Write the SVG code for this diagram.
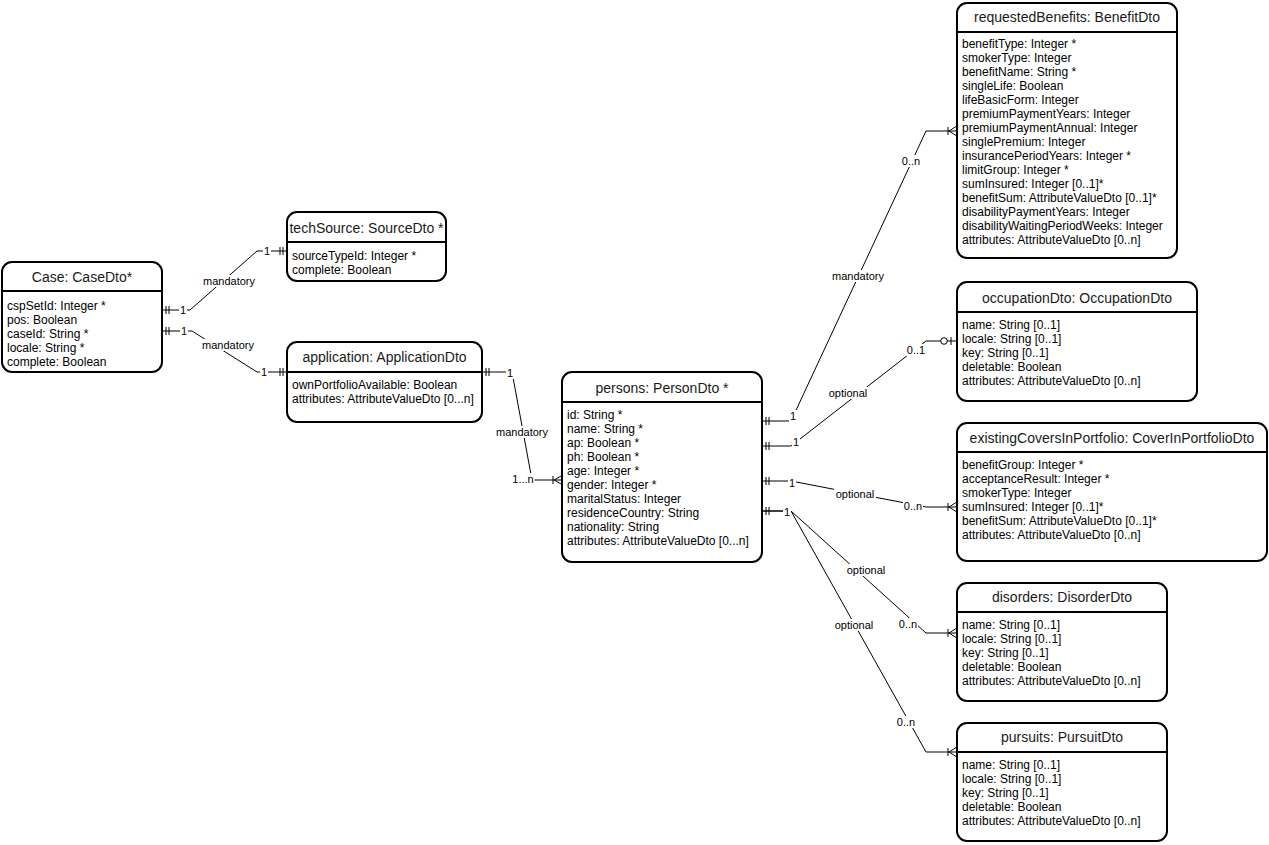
<svg xmlns="http://www.w3.org/2000/svg" width="1269" height="845" viewBox="0 0 1269 845">
<style>
.box{fill:#fff;stroke:#000;stroke-width:2}
.hdr{stroke:#000;stroke-width:2}
.title{font-family:"Liberation Sans",Arial,sans-serif;font-size:14px;fill:#1a1a1a;text-anchor:middle}
.row{font-family:"Liberation Sans",Arial,sans-serif;font-size:12px;fill:#000}
.edge{fill:none;stroke:#000;stroke-width:1}
.mk{fill:none;stroke:#000;stroke-width:1}
.bg{fill:#fff}
.lbl{font-family:"Liberation Sans",Arial,sans-serif;font-size:11px;fill:#000;text-anchor:middle}
</style>
<rect width="1269" height="845" fill="#fff"/>

<g id="connectors">
  <!-- Case -> techSource -->
  <polyline class="edge" points="162,310 190,310 257,251 287,251"/>
  <path class="mk" d="M166,306V314M169,306V314M283,247V255M280,247V255"/>
  <rect class="bg" x="179" y="304" width="8" height="12"/>
  <text class="lbl" x="183" y="314">1</text>
  <rect class="bg" x="263" y="245" width="8" height="12"/>
  <text class="lbl" x="267" y="255">1</text>
  <rect class="bg" x="202" y="275" width="54" height="12"/>
  <text class="lbl" x="229" y="285">mandatory</text>
  <!-- Case -> application -->
  <polyline class="edge" points="162,331 192,331 257,372 287,372"/>
  <path class="mk" d="M166,327V335M169,327V335M283,368V376M280,368V376"/>
  <rect class="bg" x="180" y="325" width="8" height="12"/>
  <text class="lbl" x="184" y="335">1</text>
  <rect class="bg" x="260" y="366" width="8" height="12"/>
  <text class="lbl" x="264" y="376">1</text>
  <rect class="bg" x="201" y="339" width="54" height="12"/>
  <text class="lbl" x="228" y="349">mandatory</text>
  <!-- application -> persons -->
  <polyline class="edge" points="482,372 512,372 532,480 562,480"/>
  <path class="mk" d="M486,368V376M489,368V376M553,476V484M554,480L562,475.5M554,480L562,484.5"/>
  <rect class="bg" x="506" y="367" width="8" height="12"/>
  <text class="lbl" x="510" y="377">1</text>
  <rect class="bg" x="495" y="426" width="54" height="12"/>
  <text class="lbl" x="522" y="436">mandatory</text>
  <rect class="bg" x="511.5" y="473" width="23" height="12"/>
  <text class="lbl" x="523" y="483">1...n</text>
  <!-- persons -> requestedBenefits -->
  <polyline class="edge" points="762,421 791,421 926,131 956,131"/>
  <path class="mk" d="M766,417V425M769,417V425M948,127V135M949,131L956,126.5M949,131L956,135.5"/>
  <rect class="bg" x="789" y="410" width="8" height="12"/>
  <text class="lbl" x="793" y="420">1</text>
  <rect class="bg" x="901" y="155" width="20" height="12"/>
  <text class="lbl" x="911" y="165">0..n</text>
  <rect class="bg" x="831" y="270" width="54" height="12"/>
  <text class="lbl" x="858" y="280">mandatory</text>
  <!-- persons -> occupationDto -->
  <polyline class="edge" points="762,446 791,446 926,341 940.7,341"/>
  <line class="edge" x1="947.3" y1="341" x2="956" y2="341"/>
  <circle class="mk" cx="944" cy="341" r="3.3" fill="#fff"/>
  <path class="mk" d="M766,442V450M769,442V450M951,337V345"/>
  <rect class="bg" x="792" y="436" width="8" height="12"/>
  <text class="lbl" x="796" y="446">1</text>
  <rect class="bg" x="827" y="387" width="42" height="12"/>
  <text class="lbl" x="848" y="397">optional</text>
  <rect class="bg" x="906" y="344" width="20" height="12"/>
  <text class="lbl" x="916" y="354">0..1</text>
  <!-- persons -> existingCoversInPortfolio -->
  <polyline class="edge" points="762,481 791,481 926,507 956,507"/>
  <path class="mk" d="M766,477V485M769,477V485M948,503V511M949,507L956,502.5M949,507L956,511.5"/>
  <rect class="bg" x="788" y="477" width="8" height="12"/>
  <text class="lbl" x="792" y="487">1</text>
  <rect class="bg" x="834" y="488" width="42" height="12"/>
  <text class="lbl" x="855" y="498">optional</text>
  <rect class="bg" x="903" y="500" width="20" height="12"/>
  <text class="lbl" x="913" y="510">0..n</text>
  <!-- persons -> disorders -->
  <polyline class="edge" points="762,511 791,511 926,633 956,633"/>
  <path class="mk" d="M766,507V515M769,507V515M948,629V637M949,633L956,628.5M949,633L956,637.5"/>
  <rect class="bg" x="845" y="564" width="42" height="12"/>
  <text class="lbl" x="866" y="574">optional</text>
  <rect class="bg" x="898" y="618" width="20" height="12"/>
  <text class="lbl" x="908" y="628">0..n</text>
  <!-- persons -> pursuits -->
  <polyline class="edge" points="762,511 791,511 926,752 956,752"/>
  <path class="mk" d="M948,748V756M949,752L956,747.5M949,752L956,756.5"/>
  <rect class="bg" x="833" y="619" width="42" height="12"/>
  <text class="lbl" x="854" y="629">optional</text>
  <rect class="bg" x="896" y="716" width="20" height="12"/>
  <text class="lbl" x="906" y="726">0..n</text>
  <rect class="bg" x="783" y="505.5" width="8" height="12"/>
  <text class="lbl" x="787" y="515.5">1</text>
</g>

<g id="case">
  <rect class="box" x="2" y="262" width="160" height="110" rx="10"/>
  <line class="hdr" x1="2" y1="291" x2="162" y2="291"/>
  <text class="title" x="82" y="282">Case: CaseDto*</text>
  <text class="row" x="7" y="310">cspSetId: Integer *</text>
  <text class="row" x="7" y="324">pos: Boolean</text>
  <text class="row" x="7" y="338">caseId: String *</text>
  <text class="row" x="7" y="352">locale: String *</text>
  <text class="row" x="7" y="366">complete: Boolean</text>
</g>

<g id="techSource">
  <rect class="box" x="287" y="212" width="159" height="69" rx="10"/>
  <line class="hdr" x1="287" y1="242" x2="446" y2="242"/>
  <text class="title" x="366.5" y="233">techSource: SourceDto *</text>
  <text class="row" x="292" y="259.5">sourceTypeId: Integer *</text>
  <text class="row" x="292" y="273.5">complete: Boolean</text>
</g>

<g id="application">
  <rect class="box" x="287" y="342" width="195" height="80" rx="10"/>
  <line class="hdr" x1="287" y1="372" x2="482" y2="372"/>
  <text class="title" x="384.5" y="362">application: ApplicationDto</text>
  <text class="row" x="292" y="388.5">ownPortfolioAvailable: Boolean</text>
  <text class="row" x="292" y="402.5">attributes: AttributeValueDto [0...n]</text>
</g>

<g id="persons">
  <rect class="box" x="562" y="372" width="200" height="190" rx="10"/>
  <line class="hdr" x1="562" y1="402" x2="762" y2="402"/>
  <text class="title" x="662" y="393">persons: PersonDto *</text>
  <text class="row" x="567" y="418.5">id: String *</text>
  <text class="row" x="567" y="432.5">name: String *</text>
  <text class="row" x="567" y="446.5">ap: Boolean *</text>
  <text class="row" x="567" y="460.5">ph: Boolean *</text>
  <text class="row" x="567" y="474.5">age: Integer *</text>
  <text class="row" x="567" y="488.5">gender: Integer *</text>
  <text class="row" x="567" y="502.5">maritalStatus: Integer</text>
  <text class="row" x="567" y="516.5">residenceCountry: String</text>
  <text class="row" x="567" y="530.5">nationality: String</text>
  <text class="row" x="567" y="544.5">attributes: AttributeValueDto [0...n]</text>
</g>

<g id="requestedBenefits">
  <rect class="box" x="957" y="3" width="220" height="255" rx="10"/>
  <line class="hdr" x1="957" y1="32" x2="1177" y2="32"/>
  <text class="title" x="1067" y="22">requestedBenefits: BenefitDto</text>
  <text class="row" x="962" y="48">benefitType: Integer *</text>
  <text class="row" x="962" y="62">smokerType: Integer</text>
  <text class="row" x="962" y="76">benefitName: String *</text>
  <text class="row" x="962" y="90">singleLife: Boolean</text>
  <text class="row" x="962" y="104">lifeBasicForm: Integer</text>
  <text class="row" x="962" y="118">premiumPaymentYears: Integer</text>
  <text class="row" x="962" y="132">premiumPaymentAnnual: Integer</text>
  <text class="row" x="962" y="146">singlePremium: Integer</text>
  <text class="row" x="962" y="160">insurancePeriodYears: Integer *</text>
  <text class="row" x="962" y="174">limitGroup: Integer *</text>
  <text class="row" x="962" y="188">sumInsured: Integer [0..1]*</text>
  <text class="row" x="962" y="202">benefitSum: AttributeValueDto [0..1]*</text>
  <text class="row" x="962" y="216">disabilityPaymentYears: Integer</text>
  <text class="row" x="962" y="230">disabilityWaitingPeriodWeeks: Integer</text>
  <text class="row" x="962" y="244">attributes: AttributeValueDto [0..n]</text>
</g>

<g id="occupationDto">
  <rect class="box" x="957" y="282" width="240" height="119" rx="10"/>
  <line class="hdr" x1="957" y1="312" x2="1197" y2="312"/>
  <text class="title" x="1077" y="303">occupationDto: OccupationDto</text>
  <text class="row" x="962" y="329">name: String [0..1]</text>
  <text class="row" x="962" y="343">locale: String [0..1]</text>
  <text class="row" x="962" y="357">key: String [0..1]</text>
  <text class="row" x="962" y="371">deletable: Boolean</text>
  <text class="row" x="962" y="385">attributes: AttributeValueDto [0..n]</text>
</g>

<g id="existingCoversInPortfolio">
  <rect class="box" x="957" y="423" width="310" height="138" rx="10"/>
  <line class="hdr" x1="957" y1="452" x2="1267" y2="452"/>
  <text class="title" x="1112" y="443">existingCoversInPortfolio: CoverInPortfolioDto</text>
  <text class="row" x="962" y="468.5">benefitGroup: Integer *</text>
  <text class="row" x="962" y="482.5">acceptanceResult: Integer *</text>
  <text class="row" x="962" y="496.5">smokerType: Integer</text>
  <text class="row" x="962" y="510.5">sumInsured: Integer [0..1]*</text>
  <text class="row" x="962" y="524.5">benefitSum: AttributeValueDto [0..1]*</text>
  <text class="row" x="962" y="538.5">attributes: AttributeValueDto [0..n]</text>
</g>

<g id="disorders">
  <rect class="box" x="957" y="583" width="210" height="118" rx="10"/>
  <line class="hdr" x1="957" y1="612" x2="1167" y2="612"/>
  <text class="title" x="1062" y="602">disorders: DisorderDto</text>
  <text class="row" x="962" y="628.5">name: String [0..1]</text>
  <text class="row" x="962" y="642.5">locale: String [0..1]</text>
  <text class="row" x="962" y="656.5">key: String [0..1]</text>
  <text class="row" x="962" y="670.5">deletable: Boolean</text>
  <text class="row" x="962" y="684.5">attributes: AttributeValueDto [0..n]</text>
</g>

<g id="pursuits">
  <rect class="box" x="957" y="723" width="210" height="118" rx="10"/>
  <line class="hdr" x1="957" y1="752" x2="1167" y2="752"/>
  <text class="title" x="1062" y="742">pursuits: PursuitDto</text>
  <text class="row" x="962" y="768.5">name: String [0..1]</text>
  <text class="row" x="962" y="782.5">locale: String [0..1]</text>
  <text class="row" x="962" y="796.5">key: String [0..1]</text>
  <text class="row" x="962" y="810.5">deletable: Boolean</text>
  <text class="row" x="962" y="824.5">attributes: AttributeValueDto [0..n]</text>
</g>
</svg>
